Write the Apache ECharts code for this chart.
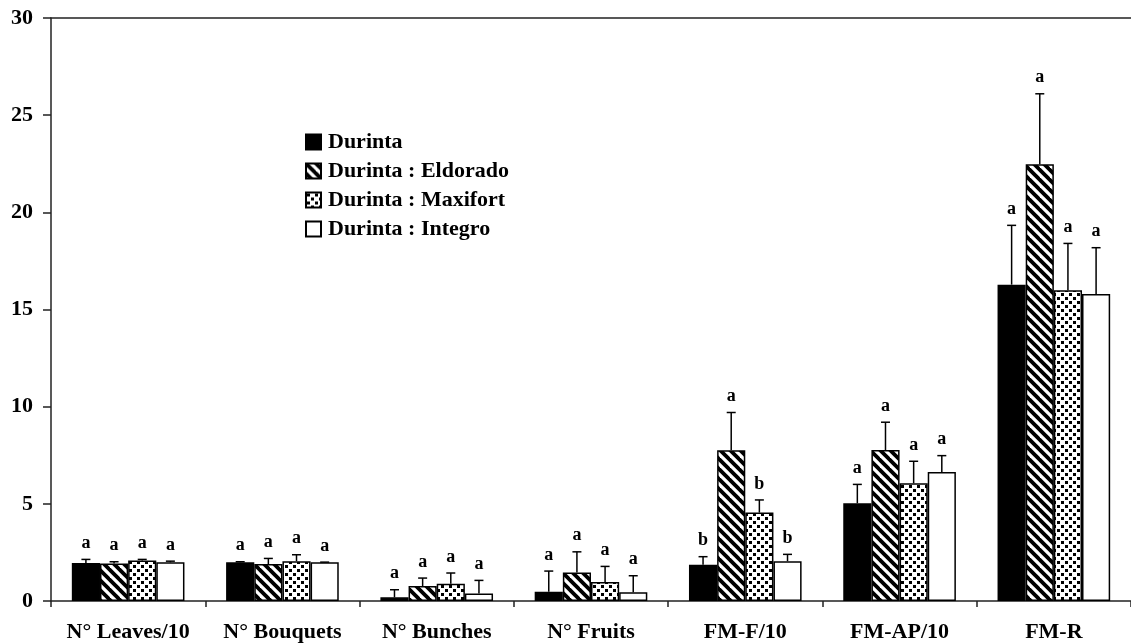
<!DOCTYPE html>
<html>
<head>
<meta charset="utf-8">
<script src="https://cdn.jsdelivr.net/npm/echarts@6/dist/echarts.min.js"></script>
<style>
  html, body { margin: 0; padding: 0; background: #fff; }
  #chart { width: 1131px; height: 643px; }
</style>
</head>
<body>
<div id="chart"></div>
<script>
// 数据
const categories = ["N° Leaves/10", "N° Bouquets", "N° Bunches", "N° Fruits", "FM-F/10", "FM-AP/10", "FM-R"];
const seriesNames = ["Durinta", "Durinta : Eldorado", "Durinta : Maxifort", "Durinta : Integro"];

const durintaMean = [1.95, 1.99, 0.19, 0.48, 1.87, 5.03, 16.28];
const eldoradoMean = [1.93, 1.90, 0.77, 1.47, 7.76, 7.77, 22.48];
const maxifortMean = [2.09, 2.05, 0.89, 0.98, 4.55, 6.06, 15.99];
const integroMean = [1.99, 1.99, 0.38, 0.45, 2.05, 6.64, 15.80];

const durintaSd = [0.19, 0.03, 0.39, 1.06, 0.41, 0.97, 3.05];
const eldoradoSd = [0.09, 0.29, 0.41, 1.06, 1.94, 1.43, 3.62];
const maxifortSd = [0.05, 0.33, 0.55, 0.80, 0.65, 1.13, 2.41];
const integroSd = [0.06, 0.01, 0.68, 0.85, 0.35, 0.84, 2.38];

const durintaLetters = ["a", "a", "a", "a", "b", "a", "a"];
const eldoradoLetters = ["a", "a", "a", "a", "a", "a", "a"];
const maxifortLetters = ["a", "a", "a", "a", "b", "a", "a"];
const integroLetters = ["a", "a", "a", "a", "b", "a", "a"];

const yTicks = [0, 5, 10, 15, 20, 25, 30];

const FONT = "'Liberation Serif', 'Times New Roman', serif";
const CATEGORY_GAP = 0.27;

// 填充图案
function stripePattern() {
  const c = document.createElement("canvas");
  const p = 10;
  c.width = p; c.height = p;
  const ctx = c.getContext("2d");
  ctx.fillStyle = "#fff";
  ctx.fillRect(0, 0, p, p);
  ctx.strokeStyle = "#000";
  ctx.lineWidth = 3.8;
  [-p, 0, p].forEach(off => {
    ctx.beginPath();
    ctx.moveTo(-2, off - 2);
    ctx.lineTo(p + 2, off + p + 2);
    ctx.stroke();
  });
  return c;
}

function dotPattern() {
  const c = document.createElement("canvas");
  const p = 8;
  c.width = p; c.height = p;
  const ctx = c.getContext("2d");
  ctx.fillStyle = "#fff";
  ctx.fillRect(0, 0, p, p);
  ctx.fillStyle = "#000";
  ctx.fillRect(1, 1, 3, 3);
  ctx.fillRect(5, 5, 3, 3);
  return c;
}

const fills = [
  "#000",
  { image: stripePattern(), repeat: "repeat" },
  { image: dotPattern(), repeat: "repeat" },
  "#fff",
];

const means = [durintaMean, eldoradoMean, maxifortMean, integroMean];
const sds = [durintaSd, eldoradoSd, maxifortSd, integroSd];
const letters = [durintaLetters, eldoradoLetters, maxifortLetters, integroLetters];

const barSeries = seriesNames.map((name, i) => ({
  name: name,
  type: "bar",
  data: means[i],
  barGap: "0%",
  barCategoryGap: (CATEGORY_GAP * 100) + "%",
  itemStyle: {
    color: fills[i],
    borderColor: "#000",
    borderWidth: 1.5,
  },
  emphasis: { disabled: true },
  z: 2,
}));

// 误差线 + 字母
const errorSeries = seriesNames.map((name, i) => ({
  type: "custom",
  name: name + " err",
  data: means[i].map((m, k) => [k, m, m + sds[i][k], letters[i][k]]),
  encode: { x: 0, y: 2 },
  z: 5,
  silent: true,
  renderItem: (params, api) => {
    const k = api.value(0);
    const catW = api.size([1, 0])[0];
    const bw = catW * (1 - CATEGORY_GAP) / 4;
    const base = api.coord([k, api.value(1)]);
    const top = api.coord([k, api.value(2)]);
    const x = base[0] + (i - 1.5) * bw;
    const capHalf = 4.5;
    return {
      type: "group",
      children: [
        {
          type: "line",
          shape: { x1: x, y1: base[1], x2: x, y2: top[1] },
          style: { stroke: "#000", lineWidth: 1.5 },
        },
        {
          type: "line",
          shape: { x1: x - capHalf, y1: top[1], x2: x + capHalf, y2: top[1] },
          style: { stroke: "#000", lineWidth: 1.5 },
        },
        {
          type: "text",
          style: {
            x: x,
            y: top[1] - 7,
            text: letters[i][k],
            fill: "#000",
            font: "bold 18px " + FONT,
            textAlign: "center",
            textVerticalAlign: "bottom",
          },
        },
      ],
    };
  },
}));

const chart = echarts.init(document.getElementById("chart"));

const option = {
  animation: false,
  backgroundColor: "#fff",
  grid: {
    left: 51,
    right: -13,
    top: 18,
    bottom: 40,
    containLabel: false,
  },
  legend: {
    data: seriesNames.map(n => ({ name: n, icon: "rect" })),
    orient: "vertical",
    left: 300,
    top: 126,
    itemWidth: 15,
    itemHeight: 15,
    itemGap: 7,
    selectedMode: false,
    textStyle: {
      fontFamily: FONT,
      fontWeight: "bold",
      fontSize: 22,
      color: "#000",
      padding: [0, 0, 0, 2],
    },
  },
  xAxis: [
    {
      type: "category",
      data: categories,
      axisLine: { lineStyle: { color: "#222", width: 1.5 } },
      axisTick: { show: true, length: 6, alignWithLabel: false, lineStyle: { color: "#222", width: 1.5 } },
      axisLabel: {
        color: "#000",
        fontFamily: FONT,
        fontWeight: "bold",
        fontSize: 22,
        margin: 20,
        interval: 0,
      },
    },
    {
      type: "category",
      position: "top",
      data: categories,
      axisLine: { show: true, lineStyle: { color: "#222", width: 1.5 } },
      axisTick: { show: false },
      axisLabel: { show: false },
    },
  ],
  yAxis: {
    type: "value",
    min: yTicks[0],
    max: yTicks[yTicks.length - 1],
    interval: yTicks[1] - yTicks[0],
    axisLine: { show: true, lineStyle: { color: "#222", width: 1.5 } },
    axisTick: { show: true, length: 8, lineStyle: { color: "#222", width: 1.5 } },
    axisLabel: {
      color: "#000",
      fontFamily: FONT,
      fontWeight: "bold",
      fontSize: 22,
      margin: 18,
    },
    splitLine: { show: false },
  },
  series: [...barSeries, ...errorSeries],
};

chart.setOption(option);
</script>
</body>
</html>
